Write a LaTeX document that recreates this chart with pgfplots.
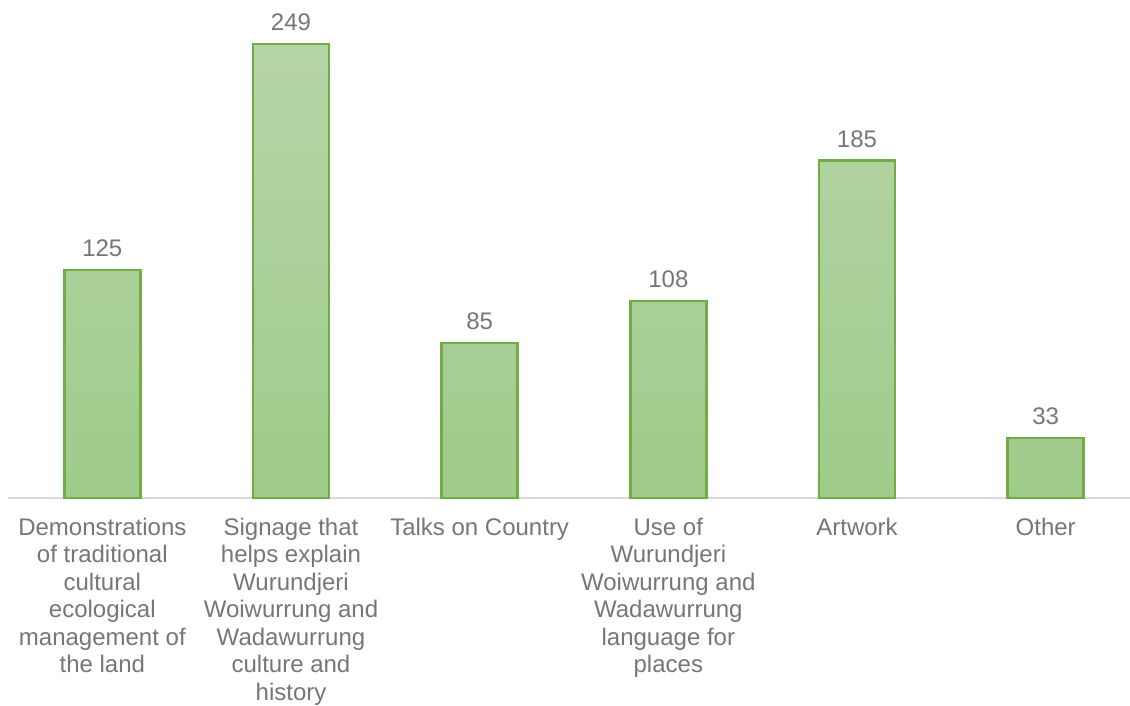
\documentclass[border=0pt]{standalone}
\usepackage{pgfplots}
\pgfplotsset{compat=1.18}
\usepackage{fontspec}
\setmainfont{Liberation Sans}
\definecolor{barline}{HTML}{70AD47}
\definecolor{bartop}{HTML}{B5D5A7}
\definecolor{barbot}{HTML}{9FCB8A}
\definecolor{axisgray}{HTML}{D9D9D9}
\definecolor{txtgray}{HTML}{767676}
\begin{document}
\begin{tikzpicture}
\begin{axis}[
    at={(0,0)}, anchor=south west,
    scale only axis,
    width=566pt, height=249pt,
    ymin=0, ymax=273,
    xmin=-0.5, xmax=5.5,
    axis x line=bottom,
    axis y line=none,
    axis line style={axisgray, line width=1pt, -},
    ybar, bar width=38pt,
    xtick=data,
    major tick length=0pt,
    xticklabels={
      {Demonstrations\\of traditional\\cultural\\ecological\\management of\\the land},
      {Signage that\\helps explain\\Wurundjeri\\Woiwurrung and\\Wadawurrung\\culture and\\history},
      {Talks on Country},
      {Use of\\Wurundjeri\\Woiwurrung and\\Wadawurrung\\language for\\places},
      {Artwork},
      {Other}},
    xticklabel style={align=center, text=txtgray,
      font=\fontsize{12}{13.75}\selectfont, yshift=-6.5pt},
    /pgf/number format/assume math mode=true,
    nodes near coords,
    every node near coord/.append style={text=txtgray,
      font=\fontsize{12}{14}\selectfont, yshift=2.5pt},
    clip=false,
]
\addplot[draw=barline, line width=1.2pt, top color=bartop, bottom color=barbot]
  coordinates {(0,125) (1,249) (2,85) (3,108) (4,185) (5,33)};
\end{axis}
\pgfresetboundingbox
\useasboundingbox (-4pt,-104pt) rectangle (561pt,249pt);
\end{tikzpicture}
\end{document}
